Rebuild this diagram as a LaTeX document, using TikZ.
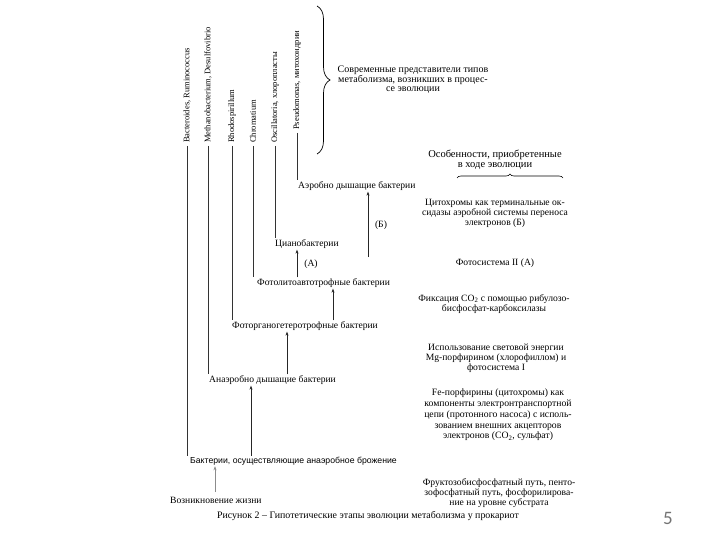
\documentclass[tikz,border=0pt]{standalone}
\usepackage{fontspec}
\setmainfont{Liberation Serif}
\newfontfamily\pagefont{Carlito}
\newfontfamily\fermfont{Liberation Sans}
\usepackage{xcolor}
\usetikzlibrary{arrows.meta,decorations.pathreplacing}

\tikzset{
  stage/.style={anchor=west,inner sep=1pt,font=\fontsize{9.6}{10}\selectfont},
  genus/.style={rotate=90,anchor=west,inner sep=3pt,font=\fontsize{8.5}{10}\selectfont},
  note/.style={align=center,inner sep=0pt,font=\fontsize{9.6}{10}\selectfont},
  drop/.style={draw=black!80,line width=0.6pt},
  evol/.style={draw=black!85,line width=0.7pt,-{Stealth[length=4pt,width=3pt]}}
}

\begin{document}
\begin{tikzpicture}[x=1pt,y=-1pt]
\useasboundingbox[fill=white] (0,0) rectangle (720,540);

% genera, rotated
\node[genus] (bact) at (187,146) {Bacteroides, Ruminococcus};
\node[genus] (meth) at (208,146) {Methanobacterium, Desulfovibrio};
\node[genus] (rhod) at (232,146) {Rhodospirillum};
\node[genus] (chro) at (253,146) {Chromatium};
\node[genus] (osci) at (275,146) {Oscillatoria, хлоропласты};
\node[genus] (pseu) at (297,133) {Pseudomonas, митохондрии};

% stages
\node[stage] (aer)   at (297,186) {Аэробно дышащие бактерии};
\node[stage] (cyan)  at (274,244) {Цианобактерии};
\node[stage] (lito)  at (256,283) {Фотолитоавтотрофные бактерии};
\node[stage] (orga)  at (231,326) {Фоторганогетеротрофные бактерии};
\node[stage] (anaer) at (208,380) {Анаэробно дышащие бактерии};
\node[stage,font=\fermfont\fontsize{8.7}{10}\selectfont] (ferm) at (189,461) {Бактерии, осуществляющие анаэробное брожение};
\node[stage] (life)  at (169,500) {Возникновение жизни};

% arrow columns
\coordinate (c1) at (215,492);
\coordinate (c2) at (251,0);
\coordinate (c3) at (287,0);
\coordinate (c4) at (333,0);
\coordinate (c5) at (297,0);
\coordinate (bstart) at (368,257);

% genus lines
\draw[drop] (bact.west) -- (bact.west |- ferm.north);
\draw[drop] (meth.west) -- (meth.west |- anaer.north);
\draw[drop] (rhod.west) -- (rhod.west |- orga.north);
\draw[drop] (chro.west) -- (chro.west |- lito.north);
\draw[drop] (osci.west) -- (osci.west |- cyan.north);
\draw[drop] (pseu.west) -- (pseu.west |- aer.north);

% evolution arrows
\draw[evol,draw=black!45,line width=0.5pt] (c1) -- (c1 |- ferm.south);
\draw[evol] (c2 |- ferm.north) -- (c2 |- anaer.south);
\draw[evol] (c3 |- anaer.north) -- (c3 |- orga.south);
\draw[evol] (c4 |- orga.north) -- (c4 |- lito.south);
\draw[evol] (c5 |- lito.north) -- (c5 |- cyan.south);
\draw[evol] (bstart) -- (bstart |- aer.south);
\node[note] (la) at (311,264) {(А)};
\node[note] (lb) at (381,225) {(Б)};

% braces
\draw[line width=0.7pt,decorate,decoration={brace,amplitude=13pt}] (317,6) -- (317,154);
\node[note,font=\fontsize{10}{9.5}\selectfont] (modern) at (413,80) {Современные представители типов\\метаболизма, возникших в процес-\\се эволюции};
\node[note,font=\fontsize{10.5}{9.5}\selectfont] (feat) at (495,160) {Особенности, приобретенные\\в ходе эволюции};
\draw[line width=0.6pt,decorate,decoration={brace,amplitude=4pt}] (457,178) -- (563,178);

% features
\node[note] (f1) at (495,213) {Цитохромы как терминальные ок-\\сидазы аэробной системы переноса\\электронов (Б)};
\node[note] (f2) at (495,263) {Фотосистема II (А)};
\node[note] (f3) at (494,304) {Фиксация CO\textsubscript{2} с помощью рибулозо-\\бисфосфат-карбоксилазы};
\node[note] (f4) at (496,358) {Использование световой энергии\\Mg-порфирином (хлорофиллом) и\\фотосистема I};
\node[note,font=\fontsize{9.7}{10.7}\selectfont] (f5) at (498,415) {Fe-порфирины (цитохромы) как\\компоненты электронтранспортной\\цепи (протонного насоса) с исполь-\\зованием внешних акцепторов\\электронов (CO\textsubscript{2}, сульфат)};
\node[note] (f6) at (499,493) {Фруктозобисфосфатный путь, пенто-\\зофосфатный путь, фосфорилирова-\\ние на уровне субстрата};

% caption and page number
\node[note,font=\fontsize{9.9}{10}\selectfont] (cap) at (368,516) {Рисунок 2 – Гипотетические этапы эволюции метаболизма у прокариот};
\node[inner sep=0pt,text=black!55,font=\pagefont\fontsize{19}{20}\selectfont] (page) at (668,518) {5};
\end{tikzpicture}
\end{document}
